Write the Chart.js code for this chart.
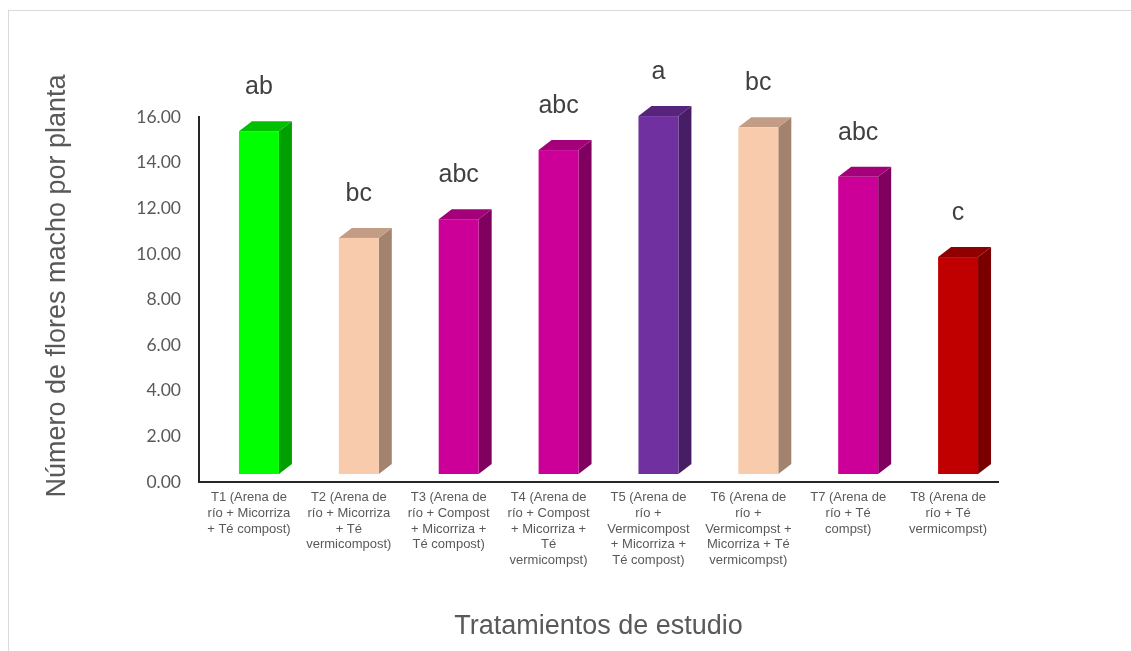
<!DOCTYPE html>
<html>
<head>
<meta charset="utf-8">
<script src="https://cdn.jsdelivr.net/npm/chart.js@4/dist/chart.umd.min.js"></script>
<style>
    html, body { margin: 0; padding: 0; background: #ffffff; }
    #wrap { width: 1131px; height: 651px; position: relative; }
</style>
</head>
<body>
<div id="wrap"><canvas id="flowerChart" width="1131" height="651"></canvas></div>
<script>
// categories (split into lines the way the axis shows them)
var treatments = [
    ["T1 (Arena de", "río + Micorriza", "+ Té compost)"],
    ["T2 (Arena de", "río + Micorriza", "+ Té", "vermicompost)"],
    ["T3 (Arena de", "río + Compost", "+ Micorriza +", "Té compost)"],
    ["T4 (Arena de", "río + Compost", "+ Micorriza +", "Té", "vermicompst)"],
    ["T5 (Arena de", "río +", "Vermicompost", "+ Micorriza +", "Té compost)"],
    ["T6 (Arena de", "río +", "Vermicompst +", "Micorriza + Té", "vermicompst)"],
    ["T7 (Arena de", "río + Té", "compst)"],
    ["T8 (Arena de", "río + Té", "vermicompst)"]
];
// mean male flowers per plant
var flowerCounts = [15.38, 10.70, 11.52, 14.55, 16.04, 15.55, 13.38, 9.86];
// significance letters
var groupLetters = ["ab", "bc", "abc", "abc", "a", "bc", "abc", "c"];
var yTicks = [0, 2, 4, 6, 8, 10, 12, 14, 16];

var frontColors = ['#00FF00', '#F8CBAD', '#CC0099', '#CC0099', '#7030A0', '#F8CBAD', '#CC0099', '#C00000'];
var sideColors = ['#00A000', '#A3836E', '#800060', '#800060', '#471D66', '#A3836E', '#800060', '#7A0000'];
var topColors = ['#00C000', '#C29C85', '#A3007A', '#A3007A', '#56247B', '#C29C85', '#A3007A', '#900000'];

var columns3d = {
    id: 'columns3d',
    beforeDraw: function (chart) {
        var ctx = chart.ctx;
        ctx.save();
        ctx.fillStyle = '#ffffff';
        ctx.fillRect(0, 0, chart.width, chart.height);
        ctx.strokeStyle = '#D9D9D9';
        ctx.lineWidth = 1;
        ctx.strokeRect(8.5, 10.5, chart.width + 20, chart.height + 20);
        // y axis title
        ctx.translate(58, 286);
        ctx.rotate(-Math.PI / 2);
        ctx.fillStyle = '#595959';
        ctx.font = '27px "Liberation Sans", Arial, sans-serif';
        ctx.textAlign = 'center';
        ctx.textBaseline = 'middle';
        ctx.fillText('Número de flores macho por planta', 0, 0);
        ctx.restore();
    },
    afterDatasetsDraw: function (chart) {
        var ctx = chart.ctx;
        var meta = chart.getDatasetMeta(0);
        var dx = 13, dy = 10, lift = 8, shift = 10;
        ctx.save();
        meta.data.forEach(function (bar, i) {
            var left = bar.x - bar.width / 2 + shift;
            var right = left + bar.width;
            var top = bar.y;
            var bottom = bar.base - lift;
            // side face
            ctx.fillStyle = sideColors[i];
            ctx.beginPath();
            ctx.moveTo(right, top);
            ctx.lineTo(right + dx, top - dy);
            ctx.lineTo(right + dx, bottom - dy);
            ctx.lineTo(right, bottom);
            ctx.closePath();
            ctx.fill();
            // top face
            ctx.fillStyle = topColors[i];
            ctx.beginPath();
            ctx.moveTo(left, top);
            ctx.lineTo(left + dx, top - dy);
            ctx.lineTo(right + dx, top - dy);
            ctx.lineTo(right, top);
            ctx.closePath();
            ctx.fill();
            // front face
            ctx.fillStyle = frontColors[i];
            ctx.fillRect(left, top, bar.width, bottom - top);
            // letter
            ctx.fillStyle = '#404040';
            ctx.font = '25px "Liberation Sans", Arial, sans-serif';
            ctx.textAlign = 'center';
            ctx.textBaseline = 'middle';
            ctx.fillText(groupLetters[i], (left + right) / 2, top - 44);
        });
        ctx.restore();
    }
};

var flowerChart = new Chart(document.getElementById('flowerChart'), {
    type: 'bar',
    data: {
        labels: treatments,
        datasets: [{
            data: flowerCounts,
            backgroundColor: 'rgba(0,0,0,0)',
            borderWidth: 0,
            barPercentage: 0.4,
            categoryPercentage: 1
        }]
    },
    options: {
        responsive: false,
        animation: false,
        layout: {
            padding: { left: 0, right: 133, top: 117, bottom: 0 }
        },
        plugins: {
            legend: { display: false },
            tooltip: { enabled: false }
        },
        scales: {
            x: {
                grid: { display: false, drawTicks: false },
                border: { display: true, color: '#262626', width: 2 },
                ticks: {
                    autoSkip: false,
                    maxRotation: 0,
                    minRotation: 0,
                    padding: 8,
                    color: '#595959',
                    font: { family: '"Liberation Sans", Arial, sans-serif', size: 13, lineHeight: 1.2 }
                },
                title: {
                    display: true,
                    text: 'Tratamientos de estudio',
                    color: '#595959',
                    font: { family: '"Liberation Sans", Arial, sans-serif', size: 27, lineHeight: 1.2 },
                    padding: { top: 0, bottom: 8 }
                },
                afterFit: function (scale) { scale.height = 169; }
            },
            y: {
                min: 0,
                max: 16,
                grid: { display: false, drawTicks: false },
                border: { display: true, color: '#262626', width: 2 },
                afterBuildTicks: function (scale) {
                    scale.ticks = yTicks.map(function (v) { return { value: v }; });
                },
                ticks: {
                    padding: 18,
                    color: '#595959',
                    font: { family: 'Lato, "Liberation Sans", sans-serif', size: 17.5 },
                    callback: function (v) { return Number(v).toFixed(2); }
                },
                afterFit: function (scale) { scale.width = 199; }
            }
        }
    },
    plugins: [columns3d]
});
</script>
</body>
</html>
